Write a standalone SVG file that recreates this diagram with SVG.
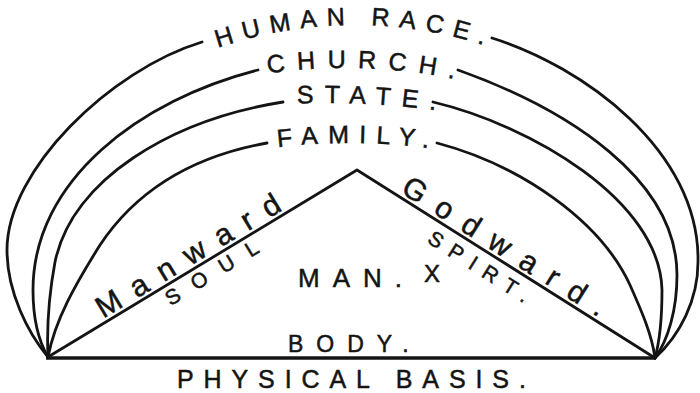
<svg xmlns="http://www.w3.org/2000/svg" width="700" height="393" viewBox="0 0 700 393">
<defs>
<style>
.ln{fill:none;stroke:#141414;stroke-width:2.8;stroke-linecap:round;stroke-linejoin:round}
.base{fill:none;stroke:#141414;stroke-width:3.4}
text{font-family:"Liberation Sans","DejaVu Sans",sans-serif;fill:#141414;stroke:#141414;stroke-width:0.5}
.top{font-size:25px}
.script{font-size:30px}
.small{font-size:21px}
</style>
<path id="pHuman" d="M200,54.6 A420,420 0 0 1 510,54.6"/>
<path id="pChurch" d="M250,76.3 A550,550 0 0 1 480,84.8"/>
<path id="pState" d="M280,104.4 A800,800 0 0 1 480,117.6"/>
<path id="pFamily" d="M260,149.8 A600,600 0 0 1 480,157.3"/>
</defs>
<rect width="700" height="393" fill="#fff"/>
<g id="arcs">
<path class="ln" d="M48,357 C28,333 7,292 7,250 C7,170 110,70 202,42"/>
<path class="ln" d="M492,38 C582,66 700,150 698,262 C698,300 680,335 655,358"/>
<path class="ln" d="M48,357 C38,340 33,320 33,290 C33,180 140,100 258,70"/>
<path class="ln" d="M458,70 C570,110 677,180 677,275 C677,310 668,340 655,358"/>
<path class="ln" d="M48,357 C47,335 48,300 55,262 C72,180 170,120 283,102"/>
<path class="ln" d="M433,102 C530,125 660,200 662,290 C662,320 660,340 655,358"/>
<path class="ln" d="M48,357 C55,320 75,285 100,245 C140,185 200,155 267,143"/>
<path class="ln" d="M437,143 C520,165 600,220 630,285 C642,312 652,335 655,358"/>
</g>
<g id="triangle">
<path class="ln" d="M48,357 L357,170 L655,358"/>
<line class="base" x1="46" y1="358" x2="656" y2="358"/>
</g>
<g id="labels-top">
<text class="top" letter-spacing="9.5"><textPath href="#pHuman" startOffset="19">HUMAN RACE.</textPath></text>
<text class="top" letter-spacing="12"><textPath href="#pChurch" startOffset="18">CHURCH.</textPath></text>
<text class="top" letter-spacing="11"><textPath href="#pState" startOffset="17">STATE.</textPath></text>
<text class="top" letter-spacing="10"><textPath href="#pFamily" startOffset="18">FAMILY.</textPath></text>
</g>
<g id="left-side" transform="translate(48,357) rotate(-31.2)">
<text class="script" x="67" y="-4" letter-spacing="14.5">Manward</text>
<text class="small" x="131" y="20" letter-spacing="16">SOUL</text>
</g>
<g id="right-side" transform="translate(357,170) rotate(32.2)">
<text class="script" x="48" y="-4" letter-spacing="15">Godward.</text>
<text class="small" x="97" y="24" letter-spacing="10">SPIRT.</text>
</g>
<g id="man">
<text x="298" y="287" font-size="26" letter-spacing="13">MAN.</text>
<text x="424" y="282" font-size="24">X</text>
</g>
<g id="body">
<text x="288" y="352" font-size="23" letter-spacing="13">BODY.</text>
</g>
<g id="basis">
<text x="177" y="388" font-size="25" letter-spacing="9.9">PHYSICAL BASIS.</text>
</g>
</svg>
